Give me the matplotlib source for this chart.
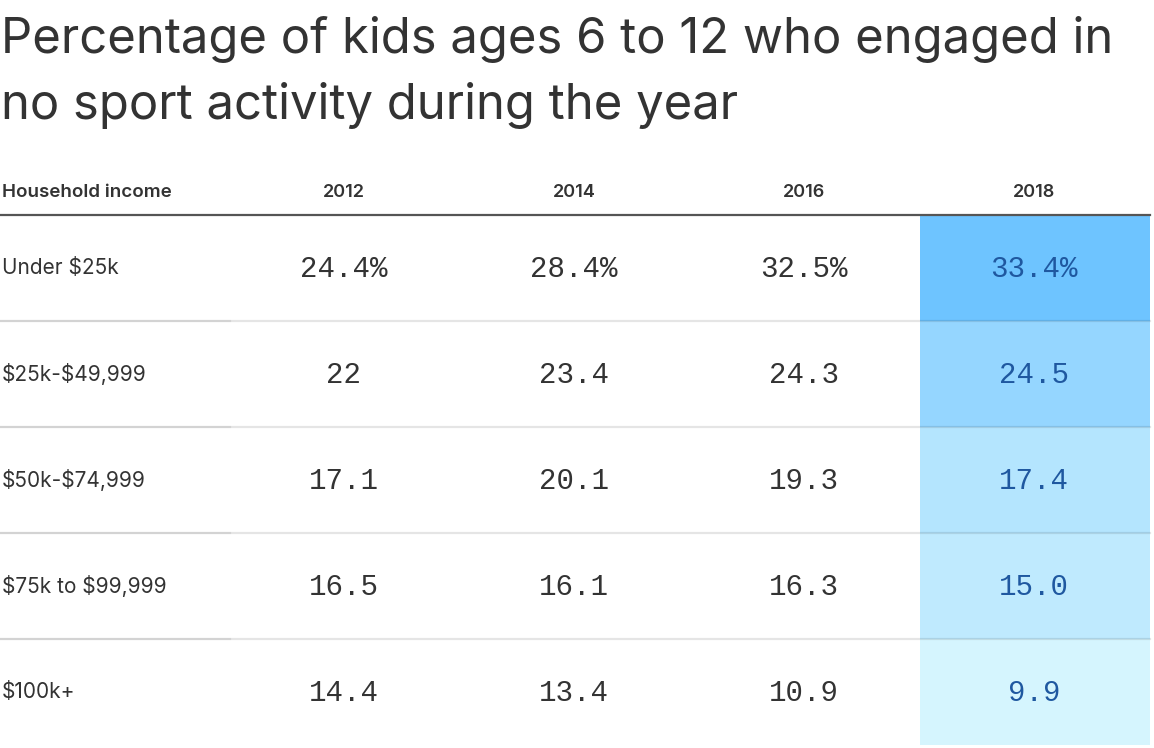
import matplotlib
matplotlib.use('Agg')
import matplotlib.pyplot as plt
from matplotlib.colors import LinearSegmentedColormap, Normalize
from matplotlib.patches import Rectangle

plt.rcParams['text.parse_math'] = False

title_lines = ['Percentage of kids ages 6 to 12 who engaged in',
               'no sport activity during the year']
row_header = 'Household income'
incomes = ['Under $25k', '$25k-$49,999', '$50k-$74,999', '$75k to $99,999', '$100k+']
years = ['2012', '2014', '2016', '2018']
vals_2012 = ['24.4%', '22', '17.1', '16.5', '14.4']
vals_2014 = ['28.4%', '23.4', '20.1', '16.1', '13.4']
vals_2016 = ['32.5%', '24.3', '19.3', '16.3', '10.9']
vals_2018 = ['33.4%', '24.5', '17.4', '15.0', '9.9']
columns = [vals_2012, vals_2014, vals_2016, vals_2018]

W, H = 1154, 748
fig = plt.figure(figsize=(W / 100, H / 100), dpi=100)
ax = fig.add_axes([0, 0, 1, 1])
ax.set_xlim(0, W)
ax.set_ylim(H, 0)
ax.axis('off')

dark = '#333333'
title_font = ['Inter', 'DejaVu Sans']
mono_font = ['Liberation Mono', 'DejaVu Sans Mono']

# title
ax.text(1, 53, title_lines[0], fontsize=35.3, color=dark, family=title_font, va='baseline')
ax.text(1, 119, title_lines[1], fontsize=35.3, color=dark, family=title_font, va='baseline')

# layout (pixels)
label_w = 230
col_w = 230
top = 215
row_h = 106
right = 1150

# highlight last column, colour scaled by value
hl = [float(v.rstrip('%')) for v in vals_2018]
cmap = LinearSegmentedColormap.from_list('hl', ['#d5f5fe', '#6ec4ff'])
norm = Normalize(min(hl), max(hl))
x0 = label_w + col_w * (len(years) - 1)
for i, v in enumerate(hl):
    ax.add_patch(Rectangle((x0, top + i * row_h), right - x0, row_h,
                           facecolor=cmap(norm(v)), edgecolor='none', zorder=1))

# headers
ax.text(2, 192, row_header, fontsize=13.5, fontweight='semibold', color=dark,
        family=title_font, va='center')
for j, y in enumerate(years):
    cx = label_w + col_w * j + col_w / 2 - 1
    ax.text(cx, 192, y, fontsize=13, fontweight='semibold', color=dark,
            family=title_font, va='center', ha='center')
ax.plot([0, right], [top, top], color='#555555', lw=1.6, zorder=3)

# rows
for i, name in enumerate(incomes):
    cy = top + i * row_h + row_h / 2
    ax.text(2, cy, name, fontsize=15, color=dark, family=title_font, va='center')
    for j, col in enumerate(columns):
        cx = label_w + col_w * j + col_w / 2 - 1
        c = '#1f58a0' if j == len(columns) - 1 else dark
        ax.text(cx, cy + 1, col[i], fontsize=21, color=c, family=mono_font,
                va='center', ha='center')
    if i > 0:
        y = top + i * row_h
        ax.plot([0, right], [y, y], color='black', alpha=0.1, lw=1.6, zorder=3)
        ax.plot([0, label_w], [y, y], color='black', alpha=0.08, lw=1.6, zorder=3)

fig.savefig('out.png', dpi=100, facecolor='white')
